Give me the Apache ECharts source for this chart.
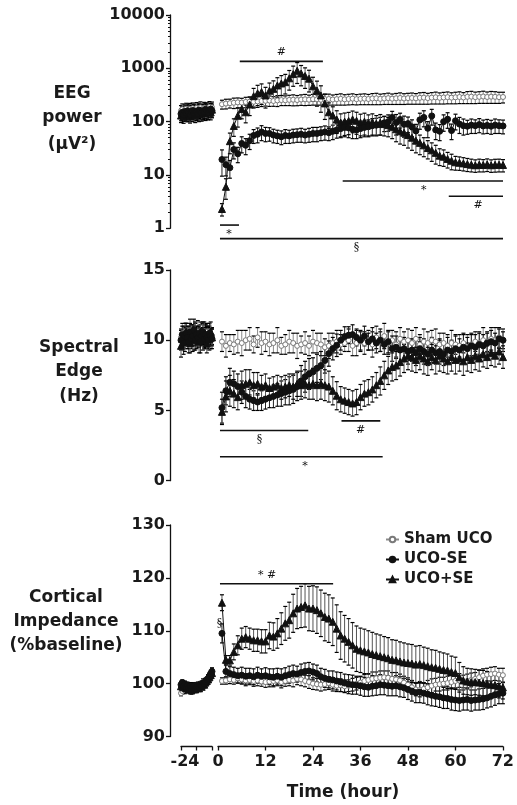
<!DOCTYPE html>
<html>
<head>
<meta charset="utf-8">
<script src="https://cdn.jsdelivr.net/npm/echarts@6/dist/echarts.min.js"></script>
<style>
  html, body { margin: 0; padding: 0; background: #fff; }
  #chart { width: 517px; height: 805px; }
</style>
</head>
<body>
<div id="chart"></div>
<script>
// time points: baseline hours and post-UCO hours
var hoursBase = [];
for (var h = -24; h <= 0; h++) hoursBase.push(h);
var hoursMain = [];
for (var k = 1; k <= 72; k++) hoursMain.push(k);

var xTicksMain = [0, 12, 24, 36, 48, 60, 72];
var xTicksBase = [-24];
var seriesNames = ['Sham UCO', 'UCO-SE', 'UCO+SE'];

// ---- EEG power (uV^2) ----
var eegShamBase = [160,170,150,165,175,155,168,172,160,178,165,170,180,162,175,185,170,168,182,176,165,180,188,175,185];
var eegShamBaseErr = [40,45,38,42,46,40,44,48,40,46,42,44,48,40,46,50,44,42,48,46,42,46,50,44,48];
var eegMinusBase = [140,150,135,155,145,160,148,138,152,162,145,158,150,142,165,155,148,160,152,170,158,150,165,172,160];
var eegMinusBaseErr = [36,40,34,42,38,44,40,36,42,44,38,42,40,38,44,42,40,44,42,46,42,40,44,46,42];
var eegPlusBase = [130,145,125,140,150,135,142,128,148,138,155,132,145,150,138,158,142,150,160,145,155,148,162,150,168];
var eegPlusBaseErr = [34,40,32,38,42,36,40,34,40,38,42,36,40,42,38,44,40,42,44,40,42,40,44,42,46];

var eegSham = [212,218,222,226,230,228,234,238,236,240,244,246,
  248,244,250,254,252,256,258,254,260,262,258,264,
  262,258,264,266,260,264,268,262,266,270,264,268,
  270,266,272,274,268,272,276,270,274,278,272,276,
  278,274,280,282,276,282,286,280,284,288,282,286,
  290,284,292,294,288,292,296,290,294,292,288,290];
var eegShamErr = [40,45,42,50,48,46,52,50,48,55,52,50,
  55,50,58,54,52,56,60,55,58,62,56,60,
  58,54,60,62,56,60,64,58,60,62,58,60,
  62,58,64,66,60,62,66,60,64,68,62,64,
  66,62,68,70,64,68,72,66,70,72,66,70,
  72,66,74,76,70,72,76,70,74,72,68,66];
var eegMinus = [19.5,15.6,13.7,30,25,39,36,44,55,58,64,60,
  60,56,54,52,55,54,56,57,58,56,58,60,
  60,62,64,62,66,70,74,78,76,72,70,74,
  78,80,84,86,88,95,100,120,96,110,89,92,
  80,67,108,120,75,128,70,66,100,111,68,104,
  90,84,82,86,84,88,83,85,82,86,84,83];
var eegMinusErr = [10,6,5,10,8,13,12,14,16,18,20,18,
  17,16,15,15,16,15,16,16,17,16,17,18,
  18,18,19,18,20,21,24,26,26,24,22,24,
  26,28,30,30,32,30,34,36,40,34,38,30,
  28,22,36,40,25,42,24,22,34,36,22,34,
  30,28,24,26,24,26,24,25,24,26,24,24];
var eegPlus = [2.3,6,43,83,129,173,150,210,
  300,340,360,310,380,412,477,520,
  550,650,780,900,800,720,640,460,
  385,310,220,150,130,110,96,100,
  103,110,104,96,100,94,98,92,
  96,90,86,80,72,66,62,56,
  50,44,40,36,32,29,26,23,
  22,20,18.5,17.3,17,16.5,16,15.6,
  15.2,15.6,15.4,15.8,15.2,15.5,15.6,15.4];
var eegPlusErr = [0.6,2.5,18,30,50,60,55,80,
  120,140,150,130,150,170,190,210,
  220,260,320,380,330,300,280,220,
  190,160,110,75,60,50,44,45,
  46,48,46,42,44,40,42,38,
  40,36,34,32,30,28,26,24,
  21,18,16,14,12,11,10,8,
  7.5,6.5,6,5,4.8,4.6,4.4,4.2,
  4,4.2,4,4.2,4,4.2,4.2,4];

// ---- Spectral edge (Hz) ----
var sefShamBase = [10.2,10.5,10.0,10.4,10.6,10.1,10.3,10.7,10.2,10.4,9.9,10.5,10.3,10.6,10.1,10.4,10.2,10.5,10.0,10.3,10.6,10.2,10.4,10.1,10.3];
var sefShamBaseErr = [0.6,0.7,0.5,0.8,0.6,0.7,0.6,0.8,0.5,0.7,0.6,0.7,0.6,0.8,0.6,0.7,0.5,0.7,0.6,0.8,0.6,0.7,0.6,0.7,0.6];
var sefMinusBase = [10.0,10.4,9.8,10.3,10.5,10.2,9.9,10.6,10.1,10.3,10.7,10.0,10.4,10.2,10.5,9.9,10.3,10.6,10.1,10.4,10.2,10.0,10.5,10.3,10.1];
var sefMinusBaseErr = [0.7,0.6,0.8,0.6,0.7,0.5,0.8,0.6,0.7,0.6,0.8,0.7,0.6,0.7,0.5,0.8,0.6,0.7,0.6,0.7,0.8,0.6,0.7,0.6,0.7];
var sefPlusBase = [9.6,10.1,10.3,9.9,10.6,10.2,10.4,9.8,10.5,10.0,10.3,10.7,10.1,10.4,9.9,10.6,10.2,10.0,10.5,10.3,9.8,10.4,10.1,10.6,10.2];
var sefPlusBaseErr = [0.8,0.6,0.7,0.7,0.6,0.8,0.6,0.7,0.6,0.8,0.7,0.6,0.7,0.6,0.8,0.7,0.6,0.7,0.8,0.6,0.7,0.6,0.8,0.7,0.6];

var sefSham = [9.9,9.6,9.8,9.7,9.9,9.8,10.0,10.1,9.7,10.2,9.8,9.9,
  9.7,9.8,10.0,9.6,9.7,9.9,9.8,9.6,9.7,9.8,9.6,9.9,
  9.8,9.7,9.5,9.6,9.8,9.9,9.7,9.8,10.0,9.6,9.8,9.9,
  9.8,10.0,9.7,10.2,9.9,10.3,9.8,10.0,9.7,10.1,9.9,10.0,
  9.8,10.1,9.7,9.9,9.8,10.0,9.9,9.7,9.8,9.6,9.8,9.7,
  9.6,9.8,9.5,9.7,9.9,9.8,10.0,9.9,10.1,10.0,10.2,10.0];
var sefShamErr = [0.7,0.8,0.6,0.7,0.8,0.9,0.7,0.8,0.6,0.7,0.8,0.7,
  0.8,0.7,0.9,0.6,0.7,0.8,0.7,0.9,0.6,0.8,0.7,0.8,
  0.7,0.8,0.6,0.9,0.7,0.8,0.7,0.6,0.8,0.7,0.9,0.7,
  0.8,0.7,0.9,0.8,0.7,0.9,0.8,0.7,0.9,0.8,0.7,0.8,
  0.9,0.8,0.7,0.9,0.8,0.7,0.9,0.8,0.7,0.8,0.9,0.7,
  0.8,0.7,0.9,0.8,0.7,0.8,0.9,0.7,0.8,0.9,0.7,0.8];
var sefMinus = [5.2,6.4,7.0,6.9,6.7,6.3,6.0,5.8,5.7,5.6,5.7,5.8,
  5.9,6.0,6.1,6.2,6.3,6.4,6.5,6.7,7.1,7.4,7.6,7.75,
  8.0,8.2,8.56,9.05,9.4,9.64,10.0,10.26,10.36,10.4,10.2,10.0,
  10.3,9.9,10.1,9.8,10.0,9.7,9.9,9.4,9.5,9.3,9.4,9.2,
  9.3,9.1,9.4,9.2,9.0,9.3,9.1,9.2,9.0,9.3,9.2,9.4,
  9.3,9.5,9.4,9.6,9.5,9.7,9.6,9.8,9.9,9.8,10.1,10.0];
var sefMinusErr = [1.1,1.0,1.0,0.9,0.9,0.8,0.8,0.7,0.7,0.6,0.7,0.7,
  0.7,0.8,0.8,0.9,0.9,1.0,1.0,1.0,1.1,1.1,1.1,1.0,
  1.0,1.0,0.9,0.9,0.8,0.8,0.7,0.7,0.6,0.7,0.6,0.7,
  0.7,0.6,0.8,0.7,0.8,0.7,0.8,0.9,0.8,0.9,0.8,0.9,
  0.8,0.9,0.8,0.9,0.8,0.9,0.8,0.9,0.8,0.9,0.8,0.9,
  0.8,0.9,0.8,0.8,0.9,0.8,0.8,0.7,0.8,0.7,0.7,0.6];
var sefPlus = [4.9,6.0,6.4,6.2,5.95,6.8,6.9,7.0,6.8,6.9,6.7,6.8,
  6.6,6.7,6.8,6.6,6.7,6.8,6.7,6.9,6.8,6.9,6.8,6.9,
  6.8,6.9,6.8,6.7,6.4,6.05,5.8,5.7,5.6,5.5,5.6,5.95,
  6.2,6.3,6.5,6.8,7.1,7.5,7.85,8.1,8.2,8.45,8.7,8.9,
  8.8,8.6,8.9,8.7,8.5,8.8,8.6,8.9,8.7,8.5,8.8,8.6,
  8.7,8.5,8.8,8.6,8.9,8.7,9.0,8.8,9.1,8.9,9.2,8.8];
var sefPlusErr = [0.9,1.1,1.1,1.0,0.9,1.0,1.0,0.9,0.9,0.8,0.8,0.8,
  0.7,0.7,0.7,0.8,0.8,0.8,0.9,0.9,1.0,1.0,1.0,1.1,
  1.1,1.1,1.1,1.1,1.0,1.0,0.9,0.9,0.9,0.9,0.9,0.9,
  0.9,0.9,0.9,0.9,1.0,1.0,1.0,1.0,1.0,1.0,1.0,1.0,
  1.0,0.9,1.0,1.1,1.0,0.9,1.0,1.1,1.0,0.9,1.0,1.0,
  0.9,1.0,1.0,0.9,1.0,0.9,0.9,0.8,0.9,0.8,0.9,0.8];

// ---- Cortical impedance (% baseline) ----
var impShamBase = [98.2,98.6,99.0,98.8,99.2,99.0,99.3,98.9,99.1,99.4,99.2,99.6,99.3,99.5,99.8,99.6,100.0,100.2,100.1,100.4,100.6,100.9,101.2,101.5,101.8];
var impShamBaseErr = [0.5,0.6,0.5,0.7,0.5,0.6,0.4,0.6,0.5,0.7,0.5,0.6,0.5,0.6,0.4,0.6,0.5,0.7,0.5,0.6,0.5,0.6,0.7,0.6,0.5];
var impMinusBase = [99.8,100.2,99.6,99.9,99.4,99.7,99.2,99.5,99.0,99.3,99.6,99.1,99.4,99.7,99.3,99.8,99.6,100.1,100.0,100.4,100.7,101.0,101.4,101.9,102.3];
var impMinusBaseErr = [0.6,0.5,0.7,0.6,0.5,0.6,0.5,0.7,0.6,0.5,0.6,0.7,0.5,0.6,0.5,0.6,0.7,0.5,0.6,0.6,0.5,0.7,0.6,0.6,0.7];
var impPlusBase = [99.5,99.9,99.3,99.7,99.1,99.4,98.9,99.2,98.7,99.0,99.4,98.9,99.2,99.5,99.1,99.6,99.4,99.9,99.8,100.2,100.5,100.8,101.2,101.6,102.0];
var impPlusBaseErr = [0.6,0.7,0.5,0.6,0.7,0.5,0.6,0.6,0.7,0.5,0.6,0.6,0.7,0.5,0.6,0.7,0.5,0.6,0.6,0.7,0.6,0.5,0.7,0.6,0.8];

var impSham = [100.5,100.6,100.8,100.7,101.0,100.8,100.6,100.7,100.5,100.6,100.4,100.3,
  100.4,100.5,100.6,100.3,100.5,100.7,100.6,100.9,100.8,100.5,100.3,100.0,
  99.9,99.8,99.9,100.1,99.8,99.6,99.7,99.5,99.6,99.8,100.0,100.2,
  100.5,100.7,100.9,101.0,101.1,101.2,101.1,100.9,100.8,100.6,100.2,99.8,
  99.3,98.9,98.8,99.0,99.3,99.6,99.8,99.9,100.0,100.1,100.3,100.5,
  100.6,100.4,100.5,100.7,100.9,101.2,101.5,101.7,101.8,101.9,101.7,101.6];
var impShamErr = [0.6,0.7,0.8,0.8,0.9,0.9,1.0,0.9,1.0,1.0,0.9,1.0,
  1.0,1.1,1.0,1.1,1.0,1.1,1.2,1.1,1.2,1.1,1.2,1.1,
  1.1,1.2,1.1,1.2,1.2,1.1,1.2,1.2,1.1,1.2,1.2,1.1,
  1.2,1.2,1.3,1.2,1.3,1.2,1.3,1.2,1.3,1.2,1.2,1.3,
  1.3,1.2,1.3,1.2,1.3,1.3,1.2,1.3,1.2,1.3,1.2,1.3,
  1.3,1.2,1.3,1.3,1.2,1.3,1.3,1.2,1.3,1.3,1.2,1.3];
var impMinus = [109.5,102.3,101.9,101.7,101.5,101.6,101.4,101.5,101.3,101.6,101.4,101.5,
  101.3,101.2,101.4,101.2,101.5,101.7,101.9,101.8,102.1,102.3,102.4,102.2,
  101.9,101.3,101.0,100.8,100.7,100.5,100.3,100.1,99.9,99.8,99.7,99.6,
  99.4,99.3,99.5,99.6,99.8,99.7,99.6,99.5,99.6,99.4,99.2,98.9,
  98.6,98.3,98.4,98.2,98.0,97.8,97.6,97.5,97.3,97.2,97.0,96.9,
  96.8,96.9,97.0,96.8,96.9,97.0,97.1,97.3,97.6,97.9,98.1,98.2];
var impMinusErr = [1.8,1.2,1.3,1.4,1.4,1.5,1.5,1.4,1.5,1.5,1.4,1.5,
  1.5,1.6,1.5,1.6,1.5,1.6,1.6,1.5,1.6,1.6,1.6,1.5,
  1.6,1.6,1.7,1.6,1.7,1.7,1.8,1.7,1.8,1.8,1.7,1.8,
  1.8,1.7,1.8,1.8,1.9,1.8,1.9,1.8,1.9,1.9,1.8,1.9,
  1.9,1.9,2.0,1.9,2.0,2.0,1.9,2.0,2.0,1.9,2.0,2.0,
  2.0,1.9,2.0,2.0,1.9,2.0,2.0,1.9,2.0,2.0,1.9,2.0];
var impPlus = [115.3,104.5,104.4,106.0,107.25,108.5,108.8,108.5,108.2,108.2,108.0,108.0,
  109.1,108.9,109.5,110.4,111.4,112.0,113.3,114.2,114.5,114.8,114.2,114.2,
  113.9,113.3,112.6,112.3,111.7,110.4,109.1,108.5,107.9,107.25,106.6,106.3,
  106.1,105.9,105.6,105.4,105.2,105.0,104.8,104.5,104.4,104.2,104.0,103.9,
  103.8,103.6,103.7,103.5,103.3,103.1,103.0,102.8,102.6,102.5,102.2,102.0,
  101.2,100.6,100.4,100.3,100.3,100.2,100.1,100.0,99.8,99.7,99.5,99.3];
var impPlusErr = [1.5,0.8,0.9,1.5,1.8,2.0,2.0,2.0,2.1,2.1,2.2,2.2,
  2.5,2.6,2.8,3.0,3.2,3.4,3.6,3.8,3.9,4.1,4.2,4.3,
  4.4,4.4,4.5,4.5,4.5,4.5,4.5,4.4,4.4,4.3,4.3,4.2,
  4.2,4.1,4.1,4.0,4.0,3.9,3.9,3.8,3.8,3.7,3.7,3.6,
  3.6,3.5,3.5,3.4,3.4,3.3,3.3,3.2,3.2,3.1,3.0,3.0,
  2.8,2.6,2.5,2.5,2.4,2.4,2.4,2.3,2.3,2.3,2.2,2.2];

// significance bars: [from hour, to hour, level, label hour, label side (-1 above, 1 below), text]
var sigEEG = [
  [5.5, 26.5, 1350, 16, -1, '#'],
  [31.5, 72, 7.7, 52, 1, '*'],
  [58.3, 72, 4.0, 65.7, 1, '#'],
  [0.5, 5.3, 1.15, 2.8, 1, '*'],
  [0.5, 72, 0.64, 35, 1, '§']
];
var sigSEF = [
  [0.5, 22.8, 3.57, 10.5, 1, '§'],
  [0.5, 41.6, 1.71, 22, 1, '*'],
  [31.2, 41, 4.26, 36, 1, '#']
];
var sigImp = [
  [0.5, 29.1, 118.9, 12.4, -1, '* #'],
  [0.4, 0.4, 111.4, 0.4, 0, '§']
];

var INK = '#1a1a1a';
var FONT = '"DejaVu Sans", sans-serif';

var styles = {
  'Sham UCO': { symbol: 'circle', size: 5, fill: '#fff', stroke: '#7a7a7a', line: '#8a8a8a', bar: '#8a8a8a' },
  'UCO-SE':   { symbol: 'circle', size: 6, fill: '#111', stroke: '#111', line: '#111', bar: '#222' },
  'UCO+SE':   { symbol: 'triangle', size: 7, fill: '#111', stroke: '#111', line: '#111', bar: '#555' }
};

var panels = [
  { top: 15, height: 213.3, yAxis: { type: 'log', logBase: 10, min: 1, max: 10000 }, minor: true,
    groups: [[eegShamBase, eegShamBaseErr, eegSham, eegShamErr],
             [eegMinusBase, eegMinusBaseErr, eegMinus, eegMinusErr],
             [eegPlusBase, eegPlusBaseErr, eegPlus, eegPlusErr]], sig: sigEEG },
  { top: 270, height: 210.7, yAxis: { type: 'value', min: 0, max: 15, interval: 5 },
    groups: [[sefShamBase, sefShamBaseErr, sefSham, sefShamErr],
             [sefMinusBase, sefMinusBaseErr, sefMinus, sefMinusErr],
             [sefPlusBase, sefPlusBaseErr, sefPlus, sefPlusErr]], sig: sigSEF },
  { top: 525, height: 211.5, yAxis: { type: 'value', min: 90, max: 130, interval: 10 },
    groups: [[impShamBase, impShamBaseErr, impSham, impShamErr],
             [impMinusBase, impMinusBaseErr, impMinus, impMinusErr],
             [impPlusBase, impPlusBaseErr, impPlus, impPlusErr]], sig: sigImp }
];

function pts(xs, vals) {
  return xs.map(function (x, i) { return [x, vals[i]]; });
}
function errs(xs, vals, e) {
  return xs.map(function (x, i) { return [x, vals[i] - e[i], vals[i] + e[i]]; });
}

// error bars drawn with the axis scales (no series name so the legend uses the line series)
function errorBarSeries(name, gi, data) {
  var st = styles[name];
  return {
    type: 'custom', xAxisIndex: gi, yAxisIndex: gi, z: 2, silent: true, clip: false,
    encode: { x: 0, y: [1, 2] },
    data: data,
    renderItem: function (params, api) {
      var lo = api.coord([api.value(0), api.value(1)]);
      var hi = api.coord([api.value(0), api.value(2)]);
      var w = 2;
      return {
        type: 'group', children: [
          { type: 'line', shape: { x1: lo[0], y1: lo[1], x2: hi[0], y2: hi[1] }, style: { stroke: st.bar, lineWidth: 1 } },
          { type: 'line', shape: { x1: hi[0] - w, y1: hi[1], x2: hi[0] + w, y2: hi[1] }, style: { stroke: '#000', lineWidth: 1.2 } },
          { type: 'line', shape: { x1: lo[0] - w, y1: lo[1], x2: lo[0] + w, y2: lo[1] }, style: { stroke: '#000', lineWidth: 1.2 } }
        ]
      };
    }
  };
}

function lineSeries(name, gi, data) {
  var st = styles[name];
  return {
    type: 'line', name: name, xAxisIndex: gi, yAxisIndex: gi, z: 3, silent: true,
    data: data, symbol: st.symbol, symbolSize: st.size, showAllSymbol: true,
    itemStyle: { color: st.fill, borderColor: st.stroke, borderWidth: 1 },
    lineStyle: { color: st.line, width: 1 }
  };
}

function sigSeries(gi, list) {
  return {
    type: 'custom', xAxisIndex: gi, yAxisIndex: gi, z: 4, silent: true, clip: false,
    encode: { x: [0, 1], y: 2 },
    data: list.map(function (s) { return [s[0], s[1], s[2], s[3]]; }),
    renderItem: function (params, api) {
      var s = list[params.dataIndex];
      var a = api.coord([s[0], s[2]]);
      var b = api.coord([s[1], s[2]]);
      var c = api.coord([s[3], s[2]]);
      var kids = [];
      if (s[1] > s[0]) {
        kids.push({ type: 'line', shape: { x1: a[0], y1: a[1], x2: b[0], y2: b[1] }, style: { stroke: '#111', lineWidth: 1.6 } });
      }
      kids.push({ type: 'text', x: c[0], y: c[1] + s[4] * 9,
        style: { text: s[5], font: '11px "DejaVu Serif", serif', fill: '#111', align: 'center', verticalAlign: 'middle' } });
      return { type: 'group', children: kids };
    }
  };
}

var grid = [], xAxis = [], yAxis = [], series = [];
panels.forEach(function (p, pi) {
  var gb = pi * 2, gm = pi * 2 + 1;
  var isLast = pi === panels.length - 1;
  grid.push({ left: 181, width: 31, top: p.top, height: p.height });
  grid.push({ left: 218, width: 285, top: p.top, height: p.height });

  var xCommon = {
    type: 'value', show: isLast, offset: 10, position: 'bottom',
    axisLine: { show: true, onZero: false, lineStyle: { color: '#111', width: 1.3 } },
    axisTick: { show: true, length: 4, lineStyle: { color: '#111', width: 1.3 } },
    splitLine: { show: false }
  };
  xAxis.push(Object.assign({}, xCommon, {
    gridIndex: gb, min: -24, max: 0, interval: 12,
    axisLabel: { margin: 7, fontFamily: FONT, fontWeight: 'bold', fontSize: 16, color: INK, padding: [0, 0, 0, 8],
      formatter: function (v) { return xTicksBase.indexOf(v) >= 0 ? String(v) : ''; } }
  }));
  xAxis.push(Object.assign({}, xCommon, {
    gridIndex: gm, min: 0, max: 72, interval: 12,
    axisLabel: { margin: 7, fontFamily: FONT, fontWeight: 'bold', fontSize: 16, color: INK,
      formatter: function (v) { return xTicksMain.indexOf(v) >= 0 ? String(v) : ''; } }
  }));

  var yCommon = Object.assign({}, p.yAxis, {
    position: 'left',
    splitLine: { show: false },
    axisLine: { show: true, onZero: false, lineStyle: { color: '#111', width: 1.3 } },
    axisTick: { show: true, length: 4, lineStyle: { color: '#111', width: 1.3 } },
    minorTick: { show: !!p.minor, splitNumber: 9, length: 2, lineStyle: { color: '#111', width: 1 } },
    axisLabel: { margin: 5, fontFamily: FONT, fontWeight: 'bold', fontSize: 16, color: INK,
      formatter: function (v) { return String(Math.round(v)); } }
  });
  yAxis.push(Object.assign({}, yCommon, { gridIndex: gb, offset: 11 }));
  yAxis.push(Object.assign({}, yCommon, { gridIndex: gm, show: false }));

  p.groups.forEach(function (g, si) {
    var name = seriesNames[si];
    series.push(errorBarSeries(name, gb, errs(hoursBase, g[0], g[1])));
    series.push(errorBarSeries(name, gm, errs(hoursMain, g[2], g[3])));
  });
  [0, 2, 1].forEach(function (si) {
    var g = p.groups[si], name = seriesNames[si];
    series.push(lineSeries(name, gb, pts(hoursBase, g[0])));
    series.push(lineSeries(name, gm, pts(hoursMain, g[2])));
  });
  series.push(sigSeries(gm, p.sig));
});

function title(lines, cx, ys) {
  return lines.map(function (t, i) {
    return { type: 'text', x: cx, y: ys[i],
      style: { text: t, font: 'bold 17px ' + FONT, fill: INK, align: 'center', verticalAlign: 'middle' } };
  });
}

var graphics = []
  .concat(title(['EEG', 'power', '(\u03bcV\u00b2)'], 72, [94, 118, 145]))
  .concat(title(['Spectral', 'Edge', '(Hz)'], 79, [348, 372, 397]))
  .concat(title(['Cortical', 'Impedance', '(%baseline)'], 66, [598, 622, 646]))
  .concat(title(['Time (hour)'], 343, [793]));

var chart = echarts.init(document.getElementById('chart'));
chart.setOption({
  animation: false,
  backgroundColor: '#fff',
  grid: grid,
  xAxis: xAxis,
  yAxis: yAxis,
  legend: {
    data: seriesNames, orient: 'vertical', left: 380, top: 527,
    itemWidth: 13, itemHeight: 7, itemGap: 5,
    textStyle: { fontFamily: FONT, fontWeight: 'bold', fontSize: 15, color: INK }
  },
  series: series,
  graphic: graphics
});
</script>
</body>
</html>
